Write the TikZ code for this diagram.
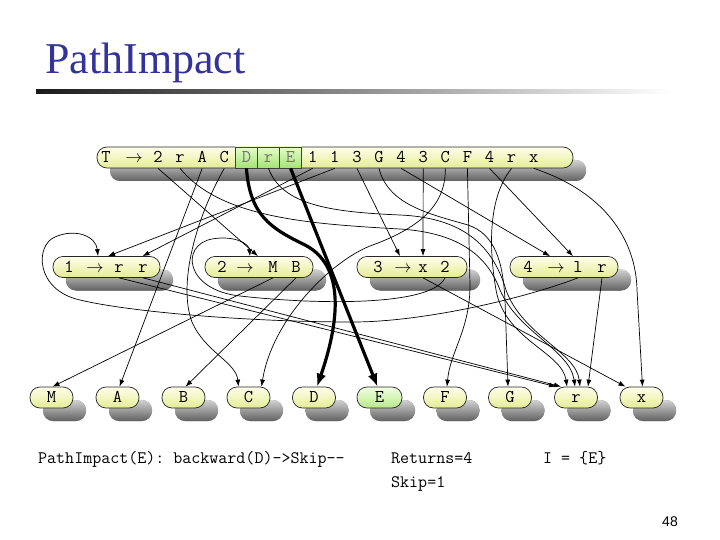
\documentclass[tikz,border=0pt]{standalone}
\usepackage{fontspec}
\setmainfont{Liberation Serif}
\setsansfont{Liberation Sans}
\usetikzlibrary{arrows.meta,shadows}
\definecolor{titleblue}{RGB}{51,51,153}
\definecolor{pilltop}{RGB}{255,255,235}
\definecolor{pillbottom}{RGB}{228,236,150}
\definecolor{celltop}{RGB}{228,252,205}
\definecolor{cellbottom}{RGB}{165,228,115}
\definecolor{termtop}{RGB}{240,255,225}
\definecolor{termbottom}{RGB}{185,232,140}
\begin{document}
\begin{tikzpicture}%
	[	x=1pt,
	y=-1pt,
	pill/.style={rectangle, rounded corners=10pt, draw=black!85, line width=0.7pt, top color=pilltop, bottom color=pillbottom, minimum height=21pt, inner sep=0pt, text height=11pt, text depth=1pt, font=\ttfamily\fontsize{18}{18}\selectfont, drop shadow={shadow xshift=13pt, shadow yshift=-13pt, opacity=1, top color=black!18, bottom color=black!62}},
	cell/.style={rectangle, draw=black!75, line width=0.7pt, top color=celltop, bottom color=cellbottom, minimum width=22.1pt, minimum height=21pt, inner sep=0pt},
	symbol/.style={inner sep=0pt, text height=11pt, text depth=1pt, font=\ttfamily\fontsize{18}{18}\selectfont},
	edge/.style={draw=black, line width=0.7pt, -{Latex[length=7pt,width=5pt]}},
	pathedge/.style={draw=black, line width=3.2pt, -{Latex[length=13pt,width=10pt]}},
	note/.style={anchor=base west, inner sep=0pt, font=\ttfamily\fontsize{17.5}{20}\selectfont}]

\fill[white] (0,0) rectangle (720,540);
\useasboundingbox (0,0) rectangle (720,540);

\node[anchor=base west, inner sep=0pt, text=titleblue, font=\fontsize{44}{44}\selectfont] (title) at (45,74) {PathImpact};
\shade[left color=black!90, right color=white] (36,90) rectangle (670,93.5);

\node[pill, minimum width=476pt] (prod) at (335,157.5) {};
\foreach \x/\n in {246.4/D,268.5/r,290.6/E}
	\node[cell] (cell\n) at (\x,157.5) {};
\node[symbol] (tT) at (106,157.5) {T};
\node[symbol] (tarr) at (134,157.5) {$\rightarrow$};
\foreach \s/\c [count=\k] in {2/black,r/black,A/black,C/black,D/black!55,r/black!55,E/black!55,1/black,1/black,3/black,G/black,4/black,3/black,C/black,F/black,4/black,r/black,x/black}
	\node[symbol, text=\c] (t\k) at ({135.9+22.1*\k},157.5) {\s};

\node[pill, minimum width=107pt] (rule1) at (106.5,267) {};
\foreach \s/\x [count=\k] in {1/69,$\rightarrow$/95,r/119,r/143}
	\node[symbol] (r1s\k) at (\x,267) {\s};
\node[pill, minimum width=108pt] (rule2) at (259,267) {};
\foreach \s/\x [count=\k] in {2/222,$\rightarrow$/245,M/273,B/296}
	\node[symbol] (r2s\k) at (\x,267) {\s};
\node[pill, minimum width=110pt] (rule3) at (412,267) {};
\foreach \s/\x [count=\k] in {3/378,$\rightarrow$/403,x/423,2/445}
	\node[symbol] (r3s\k) at (\x,267) {\s};
\node[pill, minimum width=108pt] (rule4) at (564,267) {};
\foreach \s/\x [count=\k] in {4/528,$\rightarrow$/556,l/578,r/602}
	\node[symbol] (r4s\k) at (\x,267) {\s};

\foreach \s/\x in {M/51.5,A/117.5,B/183.5,C/248.5,D/314,F/445,G/510,r/576,x/641.5}
	\node[pill, minimum width=43pt] (term\s) at (\x,397.5) {\s};
\node[pill, minimum width=45pt, top color=termtop, bottom color=termbottom] (termE) at (379.5,397.5) {E};

\draw[edge] (t1 |- prod.south) -- ([xshift=-1pt]rule2.north);
\draw[edge] (t2 |- prod.south) .. controls (220,218) and (310,224) .. (400,229) .. controls (462,233) and (488,258) .. (500,290) .. controls (518,332) and (570,350) .. ([xshift=-1pt]termr.north);
\draw[edge] (t3 |- prod.south) -- ([xshift=2pt]termA.north);
\draw[edge] (t4 |- prod.south) .. controls (195,220) and (178,285) .. (192,322) .. controls (205,352) and (236,362) .. ([xshift=-10pt]termC.north);
\draw[pathedge] (t5 |- prod.south) .. controls (250,215) and (270,228) .. (305,245) .. controls (338,262) and (345,305) .. ([xshift=3pt]termD.north);
\draw[edge] (t6 |- prod.south) .. controls (282,205) and (330,212) .. (400,215) .. controls (468,218) and (494,250) .. (506,290) .. controls (522,335) and (576,352) .. ([xshift=4pt]termr.north);
\draw[pathedge] (t7 |- prod.south) -- ([xshift=-2pt]termE.north);
\draw[edge] (t8 |- prod.south) -- ([xshift=36pt]rule1.north);
\draw[edge] (t9 |- prod.south) -- ([xshift=1.5pt]rule1.north);
\draw[edge] (t10 |- prod.south) -- ([xshift=-12pt]rule3.north);
\draw[edge] (t11 |- prod.south) .. controls (388,205) and (430,214) .. (468,225) .. controls (495,234) and (503,262) .. (505,300) -- ([xshift=-2pt]termG.north);
\draw[edge] (t12 |- prod.south) -- ([xshift=-14pt]rule4.north);
\draw[edge] (t13 |- prod.south) -- ([xshift=11pt]rule3.north);
\draw[edge] (t14 |- prod.south) .. controls (446,205) and (420,228) .. (370,246) .. controls (330,262) and (272,320) .. ([xshift=13pt]termC.north);
\draw[edge] (t15 |- prod.south) -- (470,285) .. controls (470,330) and (450,352) .. ([xshift=2pt]termF.north);
\draw[edge] (t16 |- prod.south) -- ([xshift=9pt]rule4.north);
\draw[edge] (t17 |- prod.south) .. controls (486,200) and (490,255) .. (496,290) .. controls (505,340) and (562,352) .. ([xshift=-9pt]termr.north);
\draw[edge] (t18 |- prod.south) .. controls (605,192) and (636,240) .. (637,290) -- ([xshift=1pt]termx.north);

\draw[edge] (r1s3 |- rule1.south) -- ([xshift=-20pt]termr.north);
\draw[edge] (r1s4 |- rule1.south) -- ([xshift=-15pt]termr.north);
\draw[edge] (r2s3 |- rule2.south) -- ([xshift=1pt]termM.north);
\draw[edge] (r2s4 |- rule2.south) -- ([xshift=2pt]termB.north);
\draw[edge] (r3s3 |- rule3.south) -- ([xshift=-16pt]termx.north);
\draw[edge] (r3s4 |- rule3.south) .. controls (432,306) and (320,305) .. (240,296) .. controls (185,290) and (180,245) .. (212,239) .. controls (235,235) and (249,244) .. ([xshift=-9pt]rule2.north);
\draw[edge] (r4s3 |- rule4.south) .. controls (520,300) and (420,322) .. (353,322) .. controls (250,322) and (130,312) .. (80,300) .. controls (35,290) and (35,245) .. (55,237) .. controls (75,228) and (96,236) .. ([xshift=-8.5pt]rule1.north);
\draw[edge] (r4s4 |- rule4.south) -- ([xshift=12pt]termr.north);

\node[note] (trace) at (38,463) {PathImpact(E): backward(D)->Skip--};
\node[note] (returns) at (391,463) {Returns=4};
\node[note] (skip) at (391,487) {Skip=1};
\node[note] (impact) at (543,463) {I = \{E\}};
\node[font=\sffamily\fontsize{14}{14}\selectfont] (pagenum) at (670,522) {48};
\end{tikzpicture}
\end{document}
